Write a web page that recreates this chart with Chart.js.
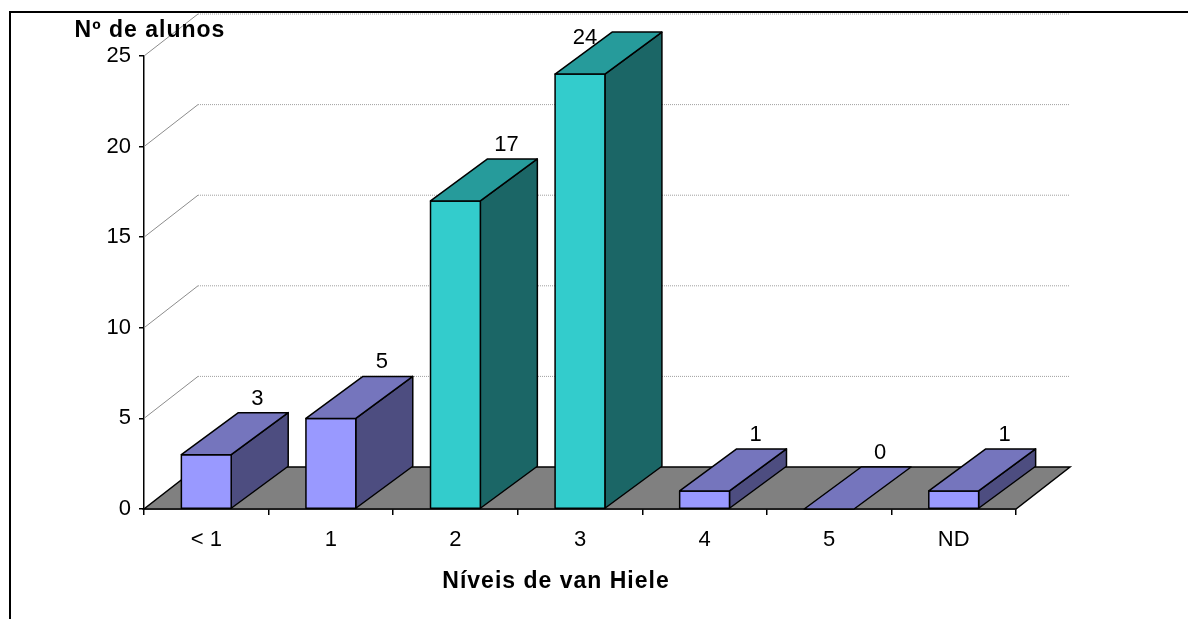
<!DOCTYPE html>
<html lang="pt">
<head>
    <meta charset="UTF-8">
    <title>Níveis de van Hiele</title>
    <script src="https://cdn.jsdelivr.net/npm/chart.js"></script>
    <style>
        body { margin: 0; background: #fff; }
        .wrap { position: relative; width: 1188px; height: 619px; }
        .frame { position: absolute; left: 9px; top: 11px; right: 0; bottom: 0;
                 border-left: 2px solid #000; border-top: 2px solid #000; pointer-events: none; }
    </style>
</head>
<body>
<div class="wrap">
    <canvas id="chart" width="1188" height="619"></canvas>
    <div class="frame"></div>
</div>
<script>
    // data
    const categories = ['< 1', '1', '2', '3', '4', '5', 'ND'];
    const alunos = [3, 5, 17, 24, 1, 0, 1];
    const yTicks = [0, 5, 10, 15, 20, 25];
    const yTitle = 'Nº de alunos';
    const xTitle = 'Níveis de van Hiele';

    // colours per bar (front / top / side)
    const purple = { front: '#9999ff', top: '#7575bd', side: '#4d4d80' };
    const teal = { front: '#33cccc', top: '#269b9b', side: '#1b6666' };
    const barStyles = categories.map(c => (c === '2' || c === '3') ? teal : purple);

    const FONT = 'Arial, "Liberation Sans", sans-serif';
    const WALL = { dx: 54, dy: 42 };   // depth of the floor / back wall
    const BAR = { dx: 57, dy: 42 };    // depth of the bars

    const threeD = {
        id: 'threeD',
        beforeDatasetsDraw(chart) {
            const { ctx, chartArea: a, scales: { y } } = chart;
            ctx.save();
            // floor
            ctx.beginPath();
            ctx.moveTo(a.left, a.bottom);
            ctx.lineTo(a.right, a.bottom);
            ctx.lineTo(a.right + WALL.dx, a.bottom - WALL.dy);
            ctx.lineTo(a.left + WALL.dx, a.bottom - WALL.dy);
            ctx.closePath();
            ctx.fillStyle = '#808080';
            ctx.fill();
            ctx.lineWidth = 1.5;
            ctx.strokeStyle = '#000';
            ctx.stroke();
            // side wall diagonals + back wall gridlines
            yTicks.forEach(v => {
                if (v === 0) return;
                const py = y.getPixelForValue(v);
                ctx.beginPath();
                ctx.moveTo(a.left, py);
                ctx.lineTo(a.left + WALL.dx, py - WALL.dy);
                ctx.strokeStyle = '#8c8c8c';
                ctx.lineWidth = 1;
                ctx.setLineDash([]);
                ctx.stroke();
                ctx.beginPath();
                ctx.moveTo(a.left + WALL.dx, py - WALL.dy);
                ctx.lineTo(a.right + WALL.dx, py - WALL.dy);
                ctx.strokeStyle = '#a0a0a0';
                ctx.setLineDash([1, 1]);
                ctx.stroke();
            });
            ctx.restore();
        },
        afterDatasetsDraw(chart) {
            const { ctx, chartArea: a } = chart;
            const meta = chart.getDatasetMeta(0);
            ctx.save();
            ctx.lineWidth = 1.5;
            ctx.strokeStyle = '#000';
            ctx.lineJoin = 'round';
            meta.data.forEach((el, i) => {
                const s = barStyles[i];
                const x0 = el.x - el.width / 2, x1 = el.x + el.width / 2;
                const top = el.y, bot = el.base;
                const poly = (pts, fill) => {
                    ctx.beginPath();
                    ctx.moveTo(pts[0][0], pts[0][1]);
                    pts.slice(1).forEach(p => ctx.lineTo(p[0], p[1]));
                    ctx.closePath();
                    ctx.fillStyle = fill;
                    ctx.fill();
                    ctx.stroke();
                };
                if (bot - top > 0.5) {
                    poly([[x1, top], [x1 + BAR.dx, top - BAR.dy], [x1 + BAR.dx, bot - BAR.dy], [x1, bot]], s.side);
                    poly([[x0, top], [x1, top], [x1, bot], [x0, bot]], s.front);
                }
                poly([[x0, top], [x1, top], [x1 + BAR.dx, top - BAR.dy], [x0 + BAR.dx, top - BAR.dy]], s.top);

                // value label
                let lx = el.x + 51, ly = top - BAR.dy - 14;
                if (ly < a.top - 18) { ly = a.top - 18; lx = el.x + 5; }
                ctx.fillStyle = '#000';
                ctx.font = '22px ' + FONT;
                ctx.textAlign = 'center';
                ctx.textBaseline = 'middle';
                ctx.fillText(String(alunos[i]), lx, ly);
            });

            // titles
            ctx.font = 'bold 23px ' + FONT;
            ctx.letterSpacing = '1px';
            ctx.textAlign = 'center';
            ctx.textBaseline = 'middle';
            ctx.fillText(yTitle, 150, 31);
            ctx.fillText(xTitle, 556, 582);
            ctx.restore();
        }
    };

    new Chart(document.getElementById('chart'), {
        type: 'bar',
        data: {
            labels: categories,
            datasets: [{
                data: alunos,
                backgroundColor: 'transparent',
                borderWidth: 0,
                categoryPercentage: 1,
                barPercentage: 0.4
            }]
        },
        options: {
            responsive: false,
            animation: false,
            layout: { padding: { left: 94, right: 172, top: 56, bottom: 0 } },
            plugins: { legend: { display: false }, tooltip: { enabled: false } },
            scales: {
                y: {
                    min: 0,
                    max: 25,
                    afterFit: s => { s.width = 50; },
                    afterBuildTicks: s => { s.ticks = yTicks.map(v => ({ value: v })); },
                    ticks: { color: '#000', padding: 8, font: { family: FONT, size: 22 } },
                    grid: { drawOnChartArea: false, tickLength: 5, color: '#000', lineWidth: 1.5 },
                    border: { color: '#000', width: 1.5 }
                },
                x: {
                    afterFit: s => { s.height = 110; },
                    ticks: { color: '#000', padding: 12, font: { family: FONT, size: 22 } },
                    grid: { offset: true, drawOnChartArea: false, tickLength: 6, color: '#000', lineWidth: 1.5 },
                    border: { color: '#000', width: 1.5 }
                }
            }
        },
        plugins: [threeD]
    });
</script>
</body>
</html>
